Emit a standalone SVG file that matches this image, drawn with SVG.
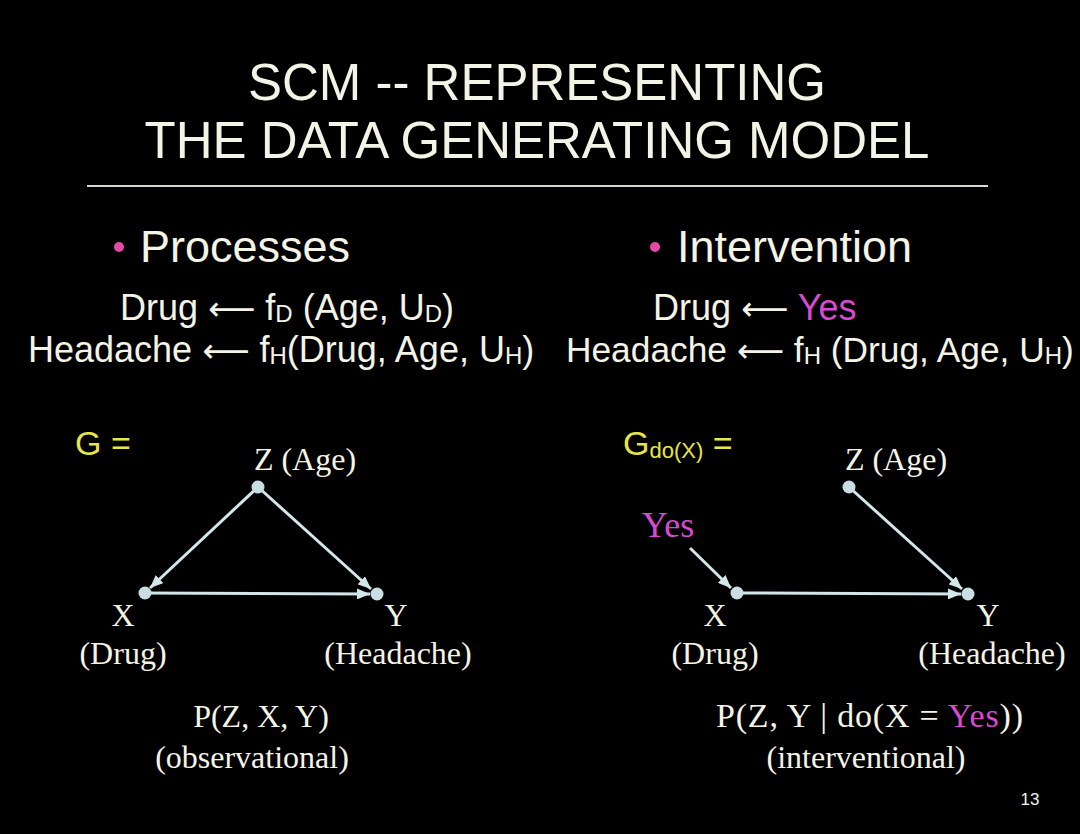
<svg xmlns="http://www.w3.org/2000/svg" width="1080" height="834" viewBox="0 0 1080 834">
<defs>
<style>
.sans{font-family:"Liberation Sans",Arial,sans-serif;fill:#f4f4e6}
.serif{font-family:"Liberation Serif","Times New Roman",serif;fill:#f4f4e6}
.title{font-size:51px}
.bul{font-size:45px}
.eq{font-size:36px}
.sub{font-size:24px}
.arr{font-family:"DejaVu Sans",sans-serif;font-size:33px}
.lbl{font-size:32px}
.yel{fill:#e6e648}
.mag{fill:#d94ad2}
.edge{stroke:#d3e6ea;stroke-width:3;fill:none}
.node{fill:#c9dde2}
</style>
<marker id="ah" markerUnits="userSpaceOnUse" markerWidth="13" markerHeight="11" refX="13" refY="5.5" orient="auto">
<path d="M0,0 L13,5.5 L0,11 z" fill="#d3e6ea"/>
</marker>
</defs>
<rect width="1080" height="834" fill="#000"/>
<g id="title">
<text class="sans title" x="537" y="100" text-anchor="middle">SCM -- REPRESENTING</text>
<text class="sans title" x="537" y="158" text-anchor="middle">THE DATA GENERATING MODEL</text>
<line x1="87" y1="186" x2="988" y2="186" stroke="#d8d8d0" stroke-width="2"/>
</g>
<g id="processes">
<circle cx="119" cy="247" r="5" fill="#e34aa8"/>
<text class="sans bul" x="140" y="262">Processes</text>
<text class="sans eq" x="120" y="320">Drug <tspan class="arr">⟵</tspan> f<tspan class="sub" dy="2">D</tspan><tspan dy="-2"> (Age, U</tspan><tspan class="sub" dy="2">D</tspan><tspan dy="-2">)</tspan></text>
<text class="sans eq" x="28" y="362">Headache <tspan class="arr">⟵</tspan> f<tspan class="sub" dy="2">H</tspan><tspan dy="-2">(Drug, Age, U</tspan><tspan class="sub" dy="2">H</tspan><tspan dy="-2">)</tspan></text>
</g>
<g id="intervention">
<circle cx="655" cy="247" r="5" fill="#e34aa8"/>
<text class="sans bul" x="677" y="262">Intervention</text>
<text class="sans eq" x="653" y="320">Drug <tspan class="arr">⟵</tspan> <tspan class="mag">Yes</tspan></text>
<text class="sans" font-size="35.3" x="566" y="362">Headache <tspan class="arr">⟵</tspan> f<tspan class="sub" dy="2">H</tspan><tspan dy="-2"> (Drug, Age, U</tspan><tspan class="sub" dy="2">H</tspan><tspan dy="-2">)</tspan></text>
</g>
<g id="connectors">
<line class="edge" x1="258" y1="487" x2="150" y2="588" marker-end="url(#ah)"/>
<line class="edge" x1="258" y1="487" x2="371" y2="589" marker-end="url(#ah)"/>
<line class="edge" x1="145" y1="593" x2="370" y2="594" marker-end="url(#ah)"/>
<line class="edge" x1="690" y1="548" x2="731" y2="588" marker-end="url(#ah)"/>
<line class="edge" x1="849" y1="487" x2="962" y2="589" marker-end="url(#ah)"/>
<line class="edge" x1="737" y1="593" x2="961" y2="594" marker-end="url(#ah)"/>
</g>
<g id="graph-g">
<text class="sans yel" x="75" y="455" font-size="34">G =</text>
</g>
<g id="node-z-left">
<circle class="node" cx="258" cy="487" r="6.5"/>
<text class="serif lbl" x="305" y="470" text-anchor="middle">Z (Age)</text>
</g>
<g id="node-x-left">
<circle class="node" cx="145" cy="593" r="6.5"/>
<text class="serif lbl" x="123" y="626" text-anchor="middle">X</text>
<text class="serif lbl" x="123" y="664" text-anchor="middle">(Drug)</text>
</g>
<g id="node-y-left">
<circle class="node" cx="377" cy="594" r="6.5"/>
<text class="serif lbl" x="396" y="626" text-anchor="middle">Y</text>
<text class="serif lbl" x="398" y="664" text-anchor="middle">(Headache)</text>
</g>
<g id="dist-left">
<text class="serif lbl" x="261" y="727" text-anchor="middle">P(Z, X, Y)</text>
<text class="serif lbl" x="252" y="768" text-anchor="middle">(observational)</text>
</g>
<g id="graph-gdo">
<text class="sans yel" x="623" y="455" font-size="34">G<tspan font-size="22" dy="3">do(X)</tspan><tspan dy="-3"> =</tspan></text>
</g>
<g id="node-yes">
<text class="serif mag" x="668" y="537" text-anchor="middle" font-size="36">Yes</text>
</g>
<g id="node-z-right">
<circle class="node" cx="849" cy="487" r="6.5"/>
<text class="serif lbl" x="896" y="470" text-anchor="middle">Z (Age)</text>
</g>
<g id="node-x-right">
<circle class="node" cx="737" cy="593" r="6.5"/>
<text class="serif lbl" x="715" y="626" text-anchor="middle">X</text>
<text class="serif lbl" x="715" y="664" text-anchor="middle">(Drug)</text>
</g>
<g id="node-y-right">
<circle class="node" cx="968" cy="594" r="6.5"/>
<text class="serif lbl" x="988" y="626" text-anchor="middle">Y</text>
<text class="serif lbl" x="992" y="664" text-anchor="middle">(Headache)</text>
</g>
<g id="dist-right">
<text class="serif" font-size="34" x="716" y="727" textLength="307" lengthAdjust="spacing">P(Z, Y | do(X = <tspan class="mag">Yes</tspan>))</text>
<text class="serif lbl" x="866" y="768" text-anchor="middle">(interventional)</text>
</g>
<g id="page">
<text class="sans" x="1030" y="805" font-size="17" text-anchor="middle">13</text>
</g>
</svg>
